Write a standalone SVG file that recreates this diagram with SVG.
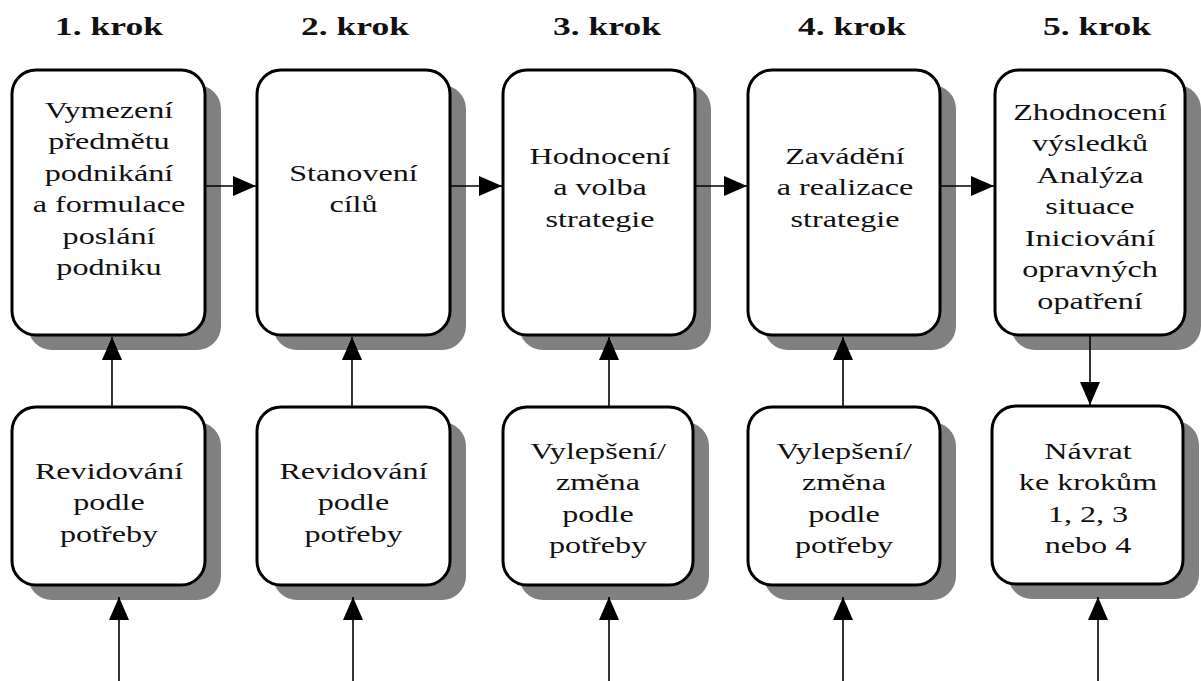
<svg xmlns="http://www.w3.org/2000/svg" width="1201" height="681" viewBox="0 0 1201 681">
<defs>
<style>
.box{fill:#fff;stroke:#000;stroke-width:3}
.sh{fill:#808080}
.t{font-family:'Liberation Serif','DejaVu Serif','Noto Serif',serif;font-size:24px;fill:#111;text-anchor:middle}
.h{font-family:'Liberation Serif','DejaVu Serif','Noto Serif',serif;font-size:25px;font-weight:bold;fill:#111;text-anchor:middle}
.c{stroke:#000;stroke-width:1.6;fill:none;marker-end:url(#ah)}
</style>
<marker id="ah" markerUnits="userSpaceOnUse" markerWidth="24" markerHeight="20" refX="23" refY="10" orient="auto">
<path d="M0,0 L23,10 L0,20 z" fill="#000"/>
</marker>
</defs>
<rect width="1201" height="681" fill="#fff"/>
<g id="titles">
<text class="h" transform="translate(109,35) scale(1.42,1)">1. krok</text>
<text class="h" transform="translate(355,35) scale(1.42,1)">2. krok</text>
<text class="h" transform="translate(607,35) scale(1.42,1)">3. krok</text>
<text class="h" transform="translate(852,35) scale(1.42,1)">4. krok</text>
<text class="h" transform="translate(1097,35) scale(1.42,1)">5. krok</text>
</g>
<g id="step1">
<rect class="sh" x="28" y="85" width="193" height="265" rx="24"/>
<rect class="box" x="12" y="70" width="193" height="265" rx="24"/>
<g transform="translate(109,0) scale(1.34,1)">
<text class="t" y="118">Vymezení</text>
<text class="t" y="149.5">předmětu</text>
<text class="t" y="181">podnikání</text>
<text class="t" y="212.5">a formulace</text>
<text class="t" y="244">poslání</text>
<text class="t" y="275.5">podniku</text>
</g>
</g>
<g id="step2">
<rect class="sh" x="273" y="85" width="193" height="265" rx="24"/>
<rect class="box" x="257" y="70" width="193" height="265" rx="24"/>
<g transform="translate(353.5,0) scale(1.34,1)">
<text class="t" y="181">Stanovení</text>
<text class="t" y="212.5">cílů</text>
</g>
</g>
<g id="step3">
<rect class="sh" x="519" y="85" width="192" height="265" rx="24"/>
<rect class="box" x="503" y="70" width="192" height="265" rx="24"/>
<g transform="translate(600,0) scale(1.34,1)">
<text class="t" y="164">Hodnocení</text>
<text class="t" y="195.5">a volba</text>
<text class="t" y="227">strategie</text>
</g>
</g>
<g id="step4">
<rect class="sh" x="764" y="85" width="192" height="265" rx="24"/>
<rect class="box" x="748" y="70" width="192" height="265" rx="24"/>
<g transform="translate(845,0) scale(1.34,1)">
<text class="t" y="164">Zavádění</text>
<text class="t" y="195.5">a realizace</text>
<text class="t" y="227">strategie</text>
</g>
</g>
<g id="step5">
<rect class="sh" x="1011" y="85" width="190" height="265" rx="24"/>
<rect class="box" x="995" y="70" width="190" height="265" rx="24"/>
<g transform="translate(1090,0) scale(1.34,1)">
<text class="t" y="120">Zhodnocení</text>
<text class="t" y="151.5">výsledků</text>
<text class="t" y="183">Analýza</text>
<text class="t" y="214.5">situace</text>
<text class="t" y="246">Iniciování</text>
<text class="t" y="277.5">opravných</text>
<text class="t" y="309">opatření</text>
</g>
</g>
<g id="rev1">
<rect class="sh" x="28" y="422" width="193" height="178" rx="24"/>
<rect class="box" x="12" y="407" width="193" height="178" rx="24"/>
<g transform="translate(109,0) scale(1.34,1)">
<text class="t" y="479">Revidování</text>
<text class="t" y="510.5">podle</text>
<text class="t" y="542">potřeby</text>
</g>
</g>
<g id="rev2">
<rect class="sh" x="273" y="422" width="193" height="178" rx="24"/>
<rect class="box" x="257" y="407" width="193" height="178" rx="24"/>
<g transform="translate(353.5,0) scale(1.34,1)">
<text class="t" y="479">Revidování</text>
<text class="t" y="510.5">podle</text>
<text class="t" y="542">potřeby</text>
</g>
</g>
<g id="imp3">
<rect class="sh" x="519" y="422" width="190" height="178" rx="24"/>
<rect class="box" x="503" y="407" width="190" height="178" rx="24"/>
<g transform="translate(598,0) scale(1.34,1)">
<text class="t" y="459">Vylepšení/</text>
<text class="t" y="490.5">změna</text>
<text class="t" y="522">podle</text>
<text class="t" y="553.5">potřeby</text>
</g>
</g>
<g id="imp4">
<rect class="sh" x="764" y="422" width="192" height="178" rx="24"/>
<rect class="box" x="748" y="407" width="192" height="178" rx="24"/>
<g transform="translate(844,0) scale(1.34,1)">
<text class="t" y="459">Vylepšení/</text>
<text class="t" y="490.5">změna</text>
<text class="t" y="522">podle</text>
<text class="t" y="553.5">potřeby</text>
</g>
</g>
<g id="return5">
<rect class="sh" x="1008" y="421" width="191" height="178" rx="24"/>
<rect class="box" x="992" y="406" width="191" height="178" rx="24"/>
<g transform="translate(1088,0) scale(1.34,1)">
<text class="t" y="459">Návrat</text>
<text class="t" y="490.5">ke krokům</text>
<text class="t" y="522">1, 2, 3</text>
<text class="t" y="553.5">nebo 4</text>
</g>
</g>
<g id="connectors">
<line class="c" x1="205" y1="186" x2="256" y2="186"/>
<line class="c" x1="450" y1="186" x2="502" y2="186"/>
<line class="c" x1="695" y1="186" x2="747" y2="186"/>
<line class="c" x1="940" y1="186" x2="994" y2="186"/>
<line class="c" x1="112" y1="407" x2="112" y2="337"/>
<line class="c" x1="352" y1="407" x2="352" y2="337"/>
<line class="c" x1="609" y1="407" x2="609" y2="337"/>
<line class="c" x1="843" y1="407" x2="843" y2="337"/>
<line class="c" x1="1090" y1="336" x2="1090" y2="405"/>
<line class="c" x1="119" y1="681" x2="119" y2="597"/>
<line class="c" x1="353" y1="681" x2="353" y2="597"/>
<line class="c" x1="609" y1="681" x2="609" y2="597"/>
<line class="c" x1="843" y1="681" x2="843" y2="597"/>
<line class="c" x1="1098" y1="681" x2="1098" y2="597"/>
</g>
</svg>
